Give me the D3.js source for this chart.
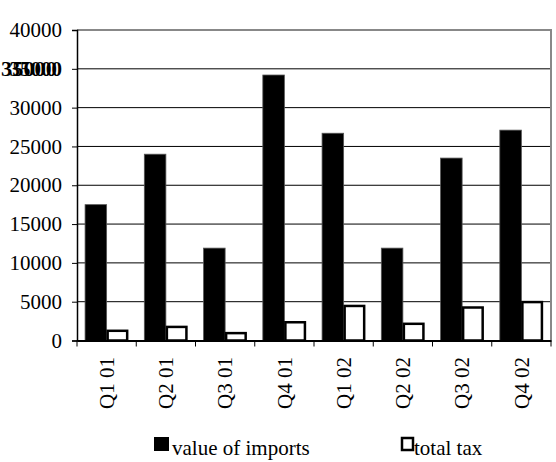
<!DOCTYPE html>
<html>
<head>
<meta charset="utf-8">
<script src="https://cdn.jsdelivr.net/npm/d3@7"></script>
<style>
  html, body { margin: 0; padding: 0; background: #fff; }
  svg { display: block; }
</style>
</head>
<body>
<svg id="chart" width="556" height="462" font-family="Liberation Serif"></svg>
<script>
const categories = ["Q1 01", "Q2 01", "Q3 01", "Q4 01", "Q1 02", "Q2 02", "Q3 02", "Q4 02"];
const seriesNames = ["value of imports", "total tax"];
const valueOfImports = [17500, 24000, 11900, 34200, 26700, 11900, 23500, 27100];
const totalTax = [1250, 1750, 950, 2350, 4450, 2150, 4250, 4950];
const yTicks = [0, 5000, 10000, 15000, 20000, 25000, 30000, 35000, 40000];

(function () {
const FONT = "Liberation Serif";
const FS = "21px";
const svg = d3.select("#chart");
const pLeft = 77, pRight = 551, pTop = 30, pBottom = 340.5;

const x0 = d3.scaleBand().domain(categories).range([pLeft, pRight]).padding(0);
const x1 = d3.scaleBand().domain(seriesNames).range([0, x0.bandwidth()])
  .paddingInner(0).paddingOuter(0.375);
const y = d3.scaleLinear().domain([0, 40000]).range([pBottom, pTop]);

// gridlines
svg.append("g").selectAll("line").data(yTicks.filter(d => d > 0 && d < 40000)).join("line")
  .attr("x1", pLeft).attr("x2", pRight)
  .attr("y1", d => y(d)).attr("y2", d => y(d))
  .attr("stroke", "#000").attr("stroke-width", 1);

// plot border top/right (gray)
svg.append("path")
  .attr("d", `M${pLeft},${y(40000)}H${pRight}V${pBottom}`)
  .attr("fill", "none").attr("stroke", "#888").attr("stroke-width", 2);

// bars
const data = categories.map((c, i) => ({ c, vals: [valueOfImports[i], totalTax[i]] }));
const groups = svg.append("g").selectAll("g").data(data).join("g")
  .attr("transform", d => `translate(${x0(d.c)},0)`);
groups.selectAll("rect").data(d => d.vals.map((v, j) => ({ s: seriesNames[j], v, j }))).join("rect")
  .attr("x", d => x1(d.s) + (d.j === 1 ? 1 : 0))
  .attr("width", d => x1.bandwidth() - (d.j === 1 ? 2 : 0))
  .attr("y", d => y(d.v))
  .attr("height", d => y(0) - y(d.v))
  .attr("fill", d => d.j === 0 ? "#000" : "#fff")
  .attr("stroke", d => d.j === 0 ? "#555" : "#000")
  .attr("stroke-width", d => d.j === 0 ? 0.8 : 2.5);

// y axis
const yAxis = d3.axisLeft(y).tickValues(yTicks).tickSize(5).tickFormat(d => d === 35000 ? "" : d3.format("d")(d));
const gy = svg.append("g").attr("transform", `translate(${pLeft},0)`).call(yAxis)
  .attr("font-family", FONT);
gy.select(".domain").attr("stroke", "#000").attr("stroke-width", 1.5);
gy.selectAll(".tick line").attr("stroke", "#000");
gy.selectAll(".tick text").style("font-size", FS).style("font-family", FONT)
  .attr("fill", "#000").attr("x", -15);

// garbled overlapping 35000 label (as in the reference)
const g35 = gy.append("g").attr("transform", `translate(0,${y(35000)})`);
g35.append("text").attr("x", -15).attr("dy", "0.32em").attr("text-anchor", "end").attr("fill", "#000")
  .style("font-family", FONT).style("font-size", FS).style("font-weight", "bold").text("35000");
g35.append("text").attr("x", -20).attr("dy", "0.32em").attr("text-anchor", "end").attr("fill", "#000")
  .style("font-family", FONT).style("font-size", FS).style("font-weight", "bold")
  .attr("textLength", 56).attr("lengthAdjust", "spacingAndGlyphs").text("35000");

// x axis
const xAxis = d3.axisBottom(x0).tickSize(0).tickFormat("");
const gx = svg.append("g").attr("transform", `translate(0,${pBottom})`).call(xAxis);
gx.select(".domain").attr("stroke", "#000").attr("stroke-width", 2);
const bounds = categories.map(c => x0(c)).concat([pRight]);
gx.selectAll(".btick").data(bounds).join("line").attr("class", "btick")
  .attr("x1", d => d).attr("x2", d => d).attr("y1", 0).attr("y2", 6)
  .attr("stroke", "#000").attr("stroke-width", 1);

// category labels rotated
svg.append("g").selectAll("text").data(categories).join("text")
  .attr("transform", d => `translate(${x0(d) + x0.bandwidth() / 2},357) rotate(-90)`)
  .attr("text-anchor", "end").attr("dy", "0.35em").attr("fill", "#000")
  .style("font-family", FONT).style("font-size", FS).text(d => d);

// legend
const legend = [
  { name: seriesNames[0], x: 154, fill: "#000", stroke: "#000", sw: 0 },
  { name: seriesNames[1], x: 401, fill: "#fff", stroke: "#000", sw: 2.5 }
];
const lg = svg.append("g").selectAll("g").data(legend).join("g");
lg.append("rect")
  .attr("x", d => d.x + (d.sw ? 1 : 0)).attr("y", d => 437 + (d.sw ? 1 : 0))
  .attr("width", d => d.sw ? 11 : 15).attr("height", d => d.sw ? 12 : 14)
  .attr("fill", d => d.fill).attr("stroke", d => d.stroke).attr("stroke-width", d => d.sw);
lg.append("text").attr("x", d => d.x + (d.sw ? 13 : 18)).attr("y", 455).attr("fill", "#000")
  .style("font-family", FONT).style("font-size", FS).text(d => d.name);
})();
</script>
</body>
</html>
